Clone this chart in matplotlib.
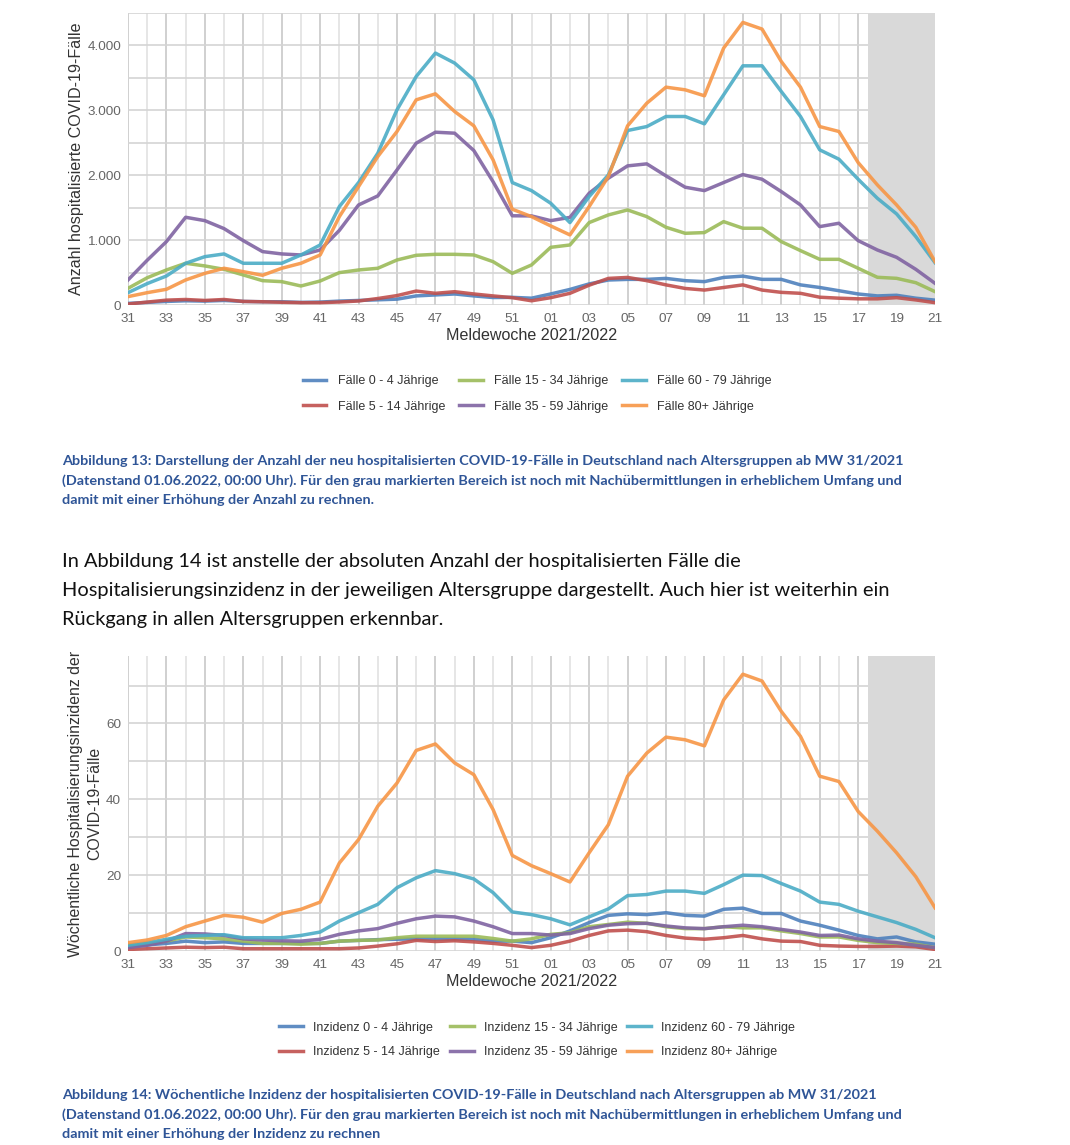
#!/usr/bin/python
# -*- coding:utf-8 -*-

import matplotlib
matplotlib.use("Agg")
import matplotlib.pyplot as plt
from matplotlib.ticker import FuncFormatter, MultipleLocator

W, H = 1070, 1145

weeks = [str(w) for w in range(31, 53)] + ["%02d" % w for w in range(1, 22)]

faelle_0_4 = [25, 40, 55, 65, 60, 70, 55, 50, 50, 40, 45, 60, 70, 80, 90, 140, 155, 170, 140, 115,
              118, 105, 170, 240, 325, 385, 395, 395, 410, 375, 360, 425, 445, 395, 395, 310, 270, 220,
              170, 140, 150, 105, 75]
faelle_5_14 = [15, 45, 75, 85, 70, 85, 55, 50, 42, 36, 36, 46, 62, 100, 145, 215, 180, 205, 170, 140,
               113, 65, 113, 180, 305, 410, 425, 375, 310, 255, 230, 270, 310, 230, 195, 180, 120, 105,
               95, 95, 113, 78, 36]
faelle_15_34 = [257, 420, 540, 643, 602, 550, 463, 375, 360, 293, 370, 499, 540, 566, 694, 766, 781, 781,
                771, 668, 488, 617, 889, 925, 1270, 1388, 1465, 1362, 1198, 1105, 1116, 1285, 1183, 1183,
                977, 838, 704, 704, 566, 427, 411, 344, 206]
faelle_35_59 = [386, 690, 977, 1352, 1300, 1177, 992, 823, 787, 771, 848, 1150, 1542, 1681, 2082, 2494,
                2663, 2648, 2380, 1900, 1375, 1373, 1300, 1350, 1722, 1954, 2144, 2175, 1990, 1815, 1763,
                1887, 2010, 1938, 1748, 1542, 1208, 1260, 992, 848, 735, 550, 334]
faelle_60_79 = [190, 330, 447, 643, 745, 787, 643, 643, 643, 771, 925, 1517, 1887, 2339, 3008, 3522, 3882,
                3728, 3470, 2853, 1887, 1763, 1568, 1270, 1671, 2005, 2689, 2750, 2905, 2905, 2792, 3239,
                3686, 3686, 3290, 2905, 2391, 2247, 1938, 1645, 1404, 1054, 653]
faelle_80 = [129, 190, 242, 386, 488, 566, 514, 458, 566, 643, 771, 1362, 1825, 2288, 2674, 3162, 3254,
             2982, 2761, 2237, 1476, 1362, 1219, 1080, 1517, 1979, 2761, 3110, 3357, 3316, 3224, 3959,
             4355, 4252, 3753, 3357, 2750, 2674, 2195, 1851, 1542, 1198, 668]

inz_0_4 = [1.3, 1.6, 2.0, 2.6, 2.2, 2.4, 2.0, 2.0, 2.0, 2.0, 2.0, 2.6, 2.8, 3.0, 3.1, 3.2, 3.2, 3.2, 3.1,
           2.6, 2.6, 2.2, 3.5, 5.3, 7.5, 9.4, 9.8, 9.6, 10.1, 9.4, 9.2, 11.0, 11.3, 9.9, 9.9, 7.9, 6.8,
           5.5, 4.1, 3.2, 3.7, 2.4, 1.8]
inz_5_14 = [0.4, 0.6, 0.8, 1.0, 0.9, 1.0, 0.6, 0.6, 0.6, 0.6, 0.6, 0.6, 0.8, 1.3, 1.9, 2.8, 2.5, 2.7, 2.4,
            2.0, 1.5, 0.9, 1.5, 2.6, 4.1, 5.3, 5.5, 5.1, 4.1, 3.4, 3.1, 3.5, 4.1, 3.2, 2.6, 2.5, 1.5, 1.3,
            1.2, 1.2, 1.3, 1.1, 0.4]
inz_15_34 = [1.5, 2.0, 2.6, 3.7, 3.5, 3.2, 2.6, 2.0, 2.0, 1.8, 2.0, 2.6, 2.8, 2.9, 3.5, 3.9, 3.9, 3.9, 3.9,
             3.3, 2.6, 3.2, 4.4, 4.8, 6.4, 7.0, 7.6, 7.3, 6.4, 5.9, 5.9, 6.4, 6.1, 6.1, 5.3, 4.6, 3.7, 3.7,
             2.8, 2.2, 2.0, 1.8, 0.9]
inz_35_59 = [0.9, 1.5, 2.6, 4.6, 4.5, 4.1, 3.2, 2.9, 2.7, 2.6, 3.1, 4.4, 5.3, 5.9, 7.3, 8.5, 9.2, 9.0, 7.9,
             6.4, 4.6, 4.6, 4.2, 4.6, 5.9, 6.8, 7.2, 7.3, 6.6, 6.1, 5.9, 6.4, 6.8, 6.4, 5.7, 5.0, 4.1, 4.2,
             3.2, 2.6, 2.2, 1.5, 0.9]
inz_60_79 = [1.5, 2.2, 3.1, 3.9, 4.1, 4.3, 3.5, 3.5, 3.5, 4.1, 5.0, 7.9, 10.1, 12.3, 16.7, 19.3, 21.2, 20.4,
             19.0, 15.4, 10.3, 9.6, 8.5, 6.9, 9.0, 11.1, 14.6, 14.9, 15.8, 15.8, 15.2, 17.5, 20.0, 19.9,
             17.8, 15.8, 12.9, 12.3, 10.5, 9.0, 7.5, 5.7, 3.5]
inz_80 = [2.2, 2.9, 4.1, 6.4, 7.9, 9.4, 8.9, 7.6, 9.9, 11.0, 12.9, 23.2, 29.4, 38.2, 44.3, 52.9, 54.6, 49.6,
          46.5, 37.3, 25.2, 22.5, 20.4, 18.2, 25.9, 33.3, 46.1, 52.2, 56.4, 55.7, 54.1, 66.2, 73.0, 71.2,
          63.2, 56.6, 46.1, 44.7, 36.8, 31.6, 25.9, 19.6, 11.4]

groups = ["0 - 4", "5 - 14", "15 - 34", "35 - 59", "60 - 79", "80+"]
colors = ["#4F81BD", "#C0504D", "#9BBB59", "#8064A2", "#4BACC6", "#F79646"]

CAPTION_BLUE = "#2F5597"
TEXT_FONT = ["Lato", "DejaVu Sans"]
CHART_FONT = ["Liberation Sans", "DejaVu Sans"]


def px_axes(fig, left, top, right, bottom):
    return fig.add_axes([left / W, 1 - bottom / H, (right - left) / W, (bottom - top) / H])


def style_axes(ax, ymax, ymajor, yminor, fmt):
    n = len(weeks)
    x = list(range(n))
    ax.set_xlim(0, n - 1)
    ax.set_ylim(0, ymax)
    ax.set_xticks(x[::2])
    ax.set_xticklabels(weeks[::2], family=CHART_FONT, fontsize=9.7, color="#666666")
    ax.set_xticks(x[1::2], minor=True)
    ax.yaxis.set_major_locator(MultipleLocator(ymajor))
    ax.yaxis.set_minor_locator(MultipleLocator(yminor))
    ax.yaxis.set_major_formatter(FuncFormatter(fmt))
    for lab in ax.get_yticklabels():
        lab.set_family(CHART_FONT)
        lab.set_fontsize(9.7)
        lab.set_color("#666666")
    ax.tick_params(which="both", length=0)
    ax.tick_params(axis="x", pad=6)
    ax.tick_params(axis="y", pad=5)
    ax.grid(True, which="major", axis="x", color="#c8c8c8", lw=1.2, zorder=0)
    ax.grid(True, which="minor", axis="x", color="#e2e2e2", lw=1.2, zorder=0)
    ax.grid(True, which="both", axis="y", color="#d4d4d4", lw=1.2, zorder=0)
    ax.set_axisbelow(True)
    for s in ax.spines.values():
        s.set_visible(False)
    # grau markierter Bereich (Nachmeldungen)
    ax.axvspan(38.5, n - 1, color="#d9d9d9", lw=0, zorder=1)
    ax.set_xlabel("Meldewoche 2021/2022", family=CHART_FONT, fontsize=11.6, color="#333333", labelpad=2)


def thousand(v, pos):
    return "{:,.0f}".format(v).replace(",", ".")


def plain(v, pos):
    return "%d" % v


def main():
    fig = plt.figure(figsize=(W / 100, H / 100), dpi=100)
    fig.patch.set_facecolor("white")
    x = list(range(len(weeks)))

    # Abbildung 13
    ax1 = px_axes(fig, 128, 13, 935, 305)
    series1 = [faelle_0_4, faelle_5_14, faelle_15_34, faelle_35_59, faelle_60_79, faelle_80]
    for g, c, s in zip(groups, colors, series1):
        ax1.plot(x, s, color=c, lw=2.5, alpha=0.9, label="Fälle %s Jährige" % g, zorder=3,
                 solid_joinstyle="round")
    style_axes(ax1, 4500, 1000, 500, thousand)
    ax1.set_ylabel("Anzahl hospitalisierte COVID-19-Fälle", family=CHART_FONT, fontsize=11.6,
                   color="#333333", labelpad=2)
    h, l = ax1.get_legend_handles_labels()
    fig.legend(h, l, loc="center", bbox_to_anchor=(537 / W, 1 - 394 / H), ncol=3, frameon=False,
               prop={"family": CHART_FONT, "size": 9.0}, handlelength=1.9, columnspacing=1.1,
               handletextpad=0.9, labelspacing=1.05, labelcolor="#333333")

    # Abbildung 14
    ax2 = px_axes(fig, 128, 656, 935, 951)
    series2 = [inz_0_4, inz_5_14, inz_15_34, inz_35_59, inz_60_79, inz_80]
    for g, c, s in zip(groups, colors, series2):
        ax2.plot(x, s, color=c, lw=2.5, alpha=0.9, label="Inzidenz %s Jährige" % g, zorder=3,
                 solid_joinstyle="round")
    style_axes(ax2, 77.8, 20, 10, plain)
    ax2.set_ylabel("Wöchentliche Hospitalisierungsinzidenz der\nCOVID-19-Fälle", family=CHART_FONT,
                   fontsize=11.4, color="#333333", labelpad=3, linespacing=1.3)
    h, l = ax2.get_legend_handles_labels()
    fig.legend(h, l, loc="center", bbox_to_anchor=(537 / W, 1 - 1040 / H), ncol=3, frameon=False,
               prop={"family": CHART_FONT, "size": 9.0}, handlelength=1.9, columnspacing=0.8,
               handletextpad=0.8, labelspacing=1.0, labelcolor="#333333")

    cap13 = ["Abbildung 13: Darstellung der Anzahl der neu hospitalisierten COVID-19-Fälle in Deutschland nach Altersgruppen ab MW 31/2021",
             "(Datenstand 01.06.2022, 00:00 Uhr). Für den grau markierten Bereich ist noch mit Nachübermittlungen in erheblichem Umfang und",
             "damit mit einer Erhöhung der Anzahl zu rechnen."]
    for i, t in enumerate(cap13):
        fig.text(62 / W, 1 - (461 + 19.5 * i) / H, t, family=TEXT_FONT, fontsize=10.4, weight="bold",
                 color=CAPTION_BLUE, va="center", ha="left")

    body = ["In Abbildung 14 ist anstelle der absoluten Anzahl der hospitalisierten Fälle die",
            "Hospitalisierungsinzidenz in der jeweiligen Altersgruppe dargestellt. Auch hier ist weiterhin ein",
            "Rückgang in allen Altersgruppen erkennbar."]
    for i, t in enumerate(body):
        fig.text(62 / W, 1 - (561 + 29.5 * i) / H, t, family=TEXT_FONT, fontsize=14.4,
                 color="#111111", va="center", ha="left")

    cap14 = ["Abbildung 14: Wöchentliche Inzidenz der hospitalisierten COVID-19-Fälle in Deutschland nach Altersgruppen ab MW 31/2021",
             "(Datenstand 01.06.2022, 00:00 Uhr). Für den grau markierten Bereich ist noch mit Nachübermittlungen in erheblichem Umfang und",
             "damit mit einer Erhöhung der Inzidenz zu rechnen"]
    for i, t in enumerate(cap14):
        fig.text(62 / W, 1 - (1095 + 19.5 * i) / H, t, family=TEXT_FONT, fontsize=10.4, weight="bold",
                 color=CAPTION_BLUE, va="center", ha="left")

    fig.savefig("out.png", dpi=100, facecolor="white")


if __name__ == '__main__':
    main()
